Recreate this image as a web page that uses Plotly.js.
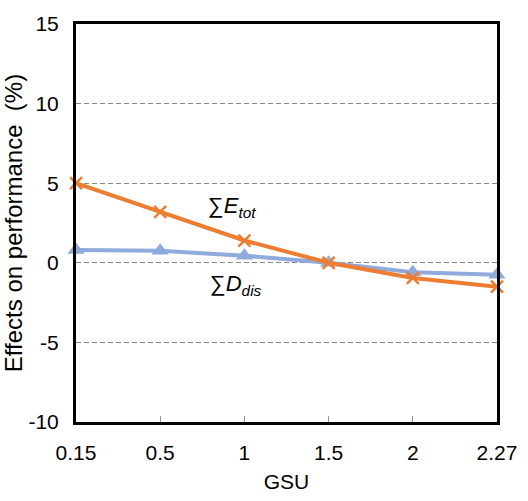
<!DOCTYPE html>
<html><head><meta charset="utf-8">
<script src="https://cdn.plot.ly/plotly-3.0.1.min.js"></script>
<style>body{margin:0;background:#fff}#chart{width:528px;height:501px}</style>
</head><body><div id="chart"></div>
<script>
const categories = ['0.15', '0.5', '1', '1.5', '2', '2.27'];
const eTot = [5.0, 3.2, 1.4, 0.0, -0.95, -1.5];
const dDis = [0.8, 0.75, 0.45, 0.0, -0.6, -0.75];
const yTicks = [-10, -5, 0, 5, 10, 15];
const yTickText = ['-10', '-5', '0', '5', '10', '15'];

const font = 'Liberation Sans, Arial, sans-serif';
const traces = [
  {x: categories, y: dDis, type: 'scatter', mode: 'lines+markers', name: 'Ddis', cliponaxis: false,
   line: {color: '#8FAADC', width: 4}, marker: {symbol: 'triangle-up', size: 15, color: '#8FAADC'}},
  {x: categories, y: eTot, type: 'scatter', mode: 'lines+markers', name: 'Etot', cliponaxis: false,
   line: {color: '#ED7D31', width: 4}, marker: {symbol: 'x-thin', size: 12, line: {color: '#ED7D31', width: 2.5}, color: '#ED7D31'}}
];
const layout = {
  width: 528, height: 501,
  margin: {l: 76, r: 31, t: 24, b: 79},
  paper_bgcolor: '#fff', plot_bgcolor: '#fff',
  showlegend: false,
  font: {family: font, color: '#000', size: 20},
  xaxis: {type: 'category', range: [0, 5], showgrid: false, zeroline: false,
    showline: true, mirror: true, linecolor: '#000', linewidth: 3,
    ticks: 'inside', ticklen: 6, tickcolor: '#999', tickwidth: 1,
    tickfont: {family: font, size: 21}, ticklabelstandoff: 10,
    title: {text: 'GSU', font: {family: font, size: 21}, standoff: 12}},
  yaxis: {range: [-10, 15], tickvals: yTicks, ticktext: yTickText, showgrid: true, gridcolor: '#8a8a8a', griddash: '5px,3px', gridwidth: 1,
    zeroline: false, showline: true, mirror: true, linecolor: '#000', linewidth: 3,
    ticks: '', tickfont: {family: font, size: 21}, ticklabelstandoff: 10,
    title: {text: 'Effects on performance  (%)', font: {family: font, size: 24}, standoff: 0}},
  annotations: [
    {x: 1.85, y: 3.5, xref: 'x', yref: 'y', text: '∑<i>E</i><sub><i>tot</i></sub>', showarrow: false, font: {family: font, size: 22}, xanchor: 'center', yanchor: 'middle'},
    {x: 1.9, y: -1.4, xref: 'x', yref: 'y', text: '∑<i>D</i><sub><i>dis</i></sub>', showarrow: false, font: {family: font, size: 22}, xanchor: 'center', yanchor: 'middle'}
  ]
};
Plotly.newPlot('chart', traces, layout, {displayModeBar: false, staticPlot: true});
</script></body></html>
